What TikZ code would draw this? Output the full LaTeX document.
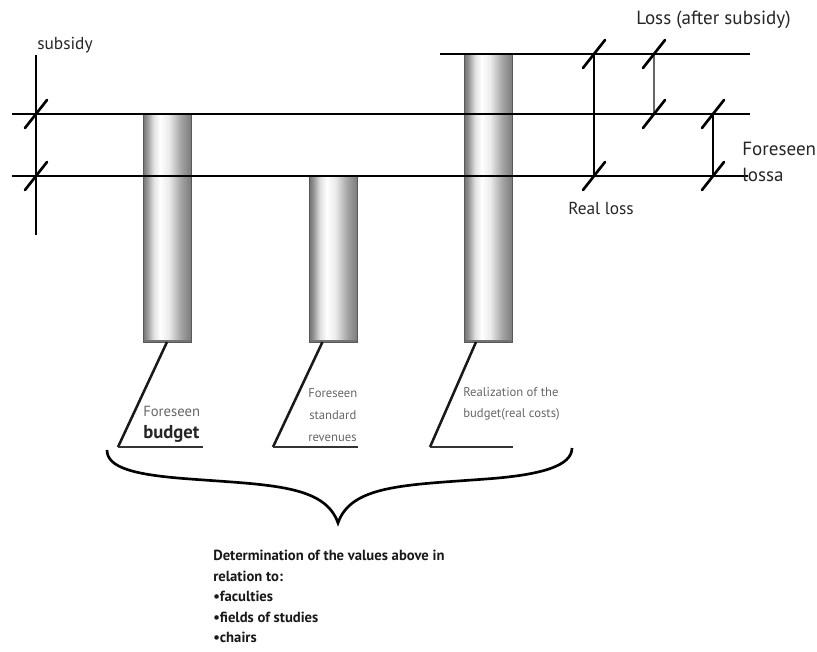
\documentclass[tikz,border=0pt]{standalone}
\usepackage{fontspec}
\setmainfont{PT Sans}
\usetikzlibrary{calc}
\pgfdeclarehorizontalshading{cylshade}{100bp}{color(0bp)=(black!55); color(25bp)=(black!55); color(29bp)=(black!42); color(36bp)=(black!12); color(43bp)=(white); color(52bp)=(black!8); color(64bp)=(black!35); color(75bp)=(black!52); color(100bp)=(black!52)}
\begin{document}
\begin{tikzpicture}[x=0.75pt,y=-0.75pt,
  bar/.style={shade, shading=cylshade, draw=black!65, line width=0.6pt, minimum width=36pt, inner sep=0pt, outer sep=0pt, anchor=north},
  mainline/.style={line width=2pt, black},
  slash/.style={line width=2pt, black, line cap=round},
  conn/.style={line width=1.9pt, black!90},
  uline/.style={line width=1.9pt, black!80},
  biglab/.style={font=\fontsize{13}{15}\selectfont, text=black!85, inner sep=0pt},
  widelab/.style={font=\fontsize{14.3}{16}\selectfont, text=black!85, inner sep=0pt},
  smalllab/.style={font=\fontsize{9.5}{11}\selectfont, text=black!60, inner sep=0pt},
  slashmark/.pic={\draw[slash] (-11,14) -- (11,-14);}
]
\useasboundingbox (0,0) rectangle (817,652);

% bars
\node[bar, minimum height=171pt] (b1) at (167,114) {};
\node[bar, minimum height=124.5pt] (b2) at (333.5,176) {};
\node[bar, minimum height=216pt] (b3) at (488.5,54) {};
\foreach \b in {b1,b2,b3}{
  \draw[black!55, line width=1.6pt] ($(\b.south west)+(0.5,-1)$) -- ($(\b.south east)+(-0.5,-1)$);
}

% horizontal levels
\coordinate (l1a) at (440,54);  \coordinate (l1b) at (750,54);
\coordinate (l2a) at (12,114);  \coordinate (l2b) at (750,114);
\coordinate (l3a) at (12,176);  \coordinate (l3b) at (748,176);
\draw[mainline] (l1a) -- (l1b);
\draw[mainline] (l2a) -- (l2b);
\draw[mainline] (l3a) -- (l3b);

% left subsidy axis
\coordinate (sTop) at (36,55); \coordinate (sBot) at (36,235);
\draw[mainline] (sTop) -- (sBot);
\pic at (36,114) {slashmark};
\pic at (36,176) {slashmark};
\node[biglab, anchor=base west] (subsidy) at (37,50) {subsidy};

% real loss
\coordinate (rlTop) at (594,54); \coordinate (rlBot) at (594,176);
\draw[mainline] (rlTop) -- (rlBot);
\pic at (rlTop) {slashmark};
\pic at (rlBot) {slashmark};
\node[biglab, anchor=base west] (reallossl) at (568,215) {Real loss};

% loss after subsidy
\coordinate (laTop) at (654,54); \coordinate (laBot) at (654,114);
\draw[line width=1.6pt, black!60] (laTop) -- (laBot);
\pic at (laTop) {slashmark};
\pic at (laBot) {slashmark};
\node[widelab, anchor=base west] (losslab) at (636,25) {Loss (after subsidy)};

% foreseen loss
\coordinate (flTop) at (713,114); \coordinate (flBot) at (713,176);
\draw[line width=1.6pt, black] (flTop) -- (flBot);
\pic at (flTop) {slashmark};
\pic at (flBot) {slashmark};
\node[widelab, anchor=base west] (forlab1) at (742,156) {Foreseen};
\node[widelab, anchor=base west] (forlab2) at (742,182) {lossa};

% connectors to labels
\coordinate (c1) at (118,447); \coordinate (e1) at (203,447);
\coordinate (c2) at (273,447); \coordinate (e2) at (358,447);
\coordinate (c3) at (430,447); \coordinate (e3) at (513,447);
\draw[conn] (b1.south) -- (c1);
\draw[conn] ($(b2.south west)!0.27!(b2.south east)$) -- (c2);
\draw[conn] ($(b3.south west)!0.24!(b3.south east)$) -- (c3);
\draw[uline] (c1) -- (e1);
\draw[uline] (c2) -- (e2);
\draw[uline] (c3) -- (e3);

\node[smalllab, font=\fontsize{11}{13}\selectfont, anchor=base west] (t1a) at (143,416) {Foreseen};
\node[inner sep=0pt, font=\fontsize{14}{16}\bfseries, text=black!85, anchor=base west] (t1b) at (143,438) {budget};
\node[smalllab, anchor=base west] (t2a) at (308,397) {Foreseen};
\node[smalllab, anchor=base west] (t2b) at (309,419) {standard};
\node[smalllab, anchor=base west] (t2c) at (308,441) {revenues};
\node[smalllab, anchor=base west] (t3a) at (463,396) {Realization of the};
\node[smalllab, anchor=base west] (t3b) at (463,417) {budget(real costs)};

% brace
\coordinate (brL) at (107,450);
\coordinate (brTip) at (338,523);
\coordinate (brR) at (572,448);
\draw[line width=2pt, black, line join=miter] (brL) .. controls (107,468) and (135,475) .. (190,479)
  .. controls (270,485) and (325,485) .. (brTip)
  .. controls (351,485) and (406,485) .. (486,479)
  .. controls (541,475) and (572,466) .. (brR);

% bottom text
\node[anchor=north west, inner sep=0pt, align=left, font=\fontsize{11}{15.4}\bfseries, text=black!90] (det) at (213,550)
  {Determination of the values above in\\relation to:\\•faculties\\•fields of studies\\•chairs};
\end{tikzpicture}
\end{document}
